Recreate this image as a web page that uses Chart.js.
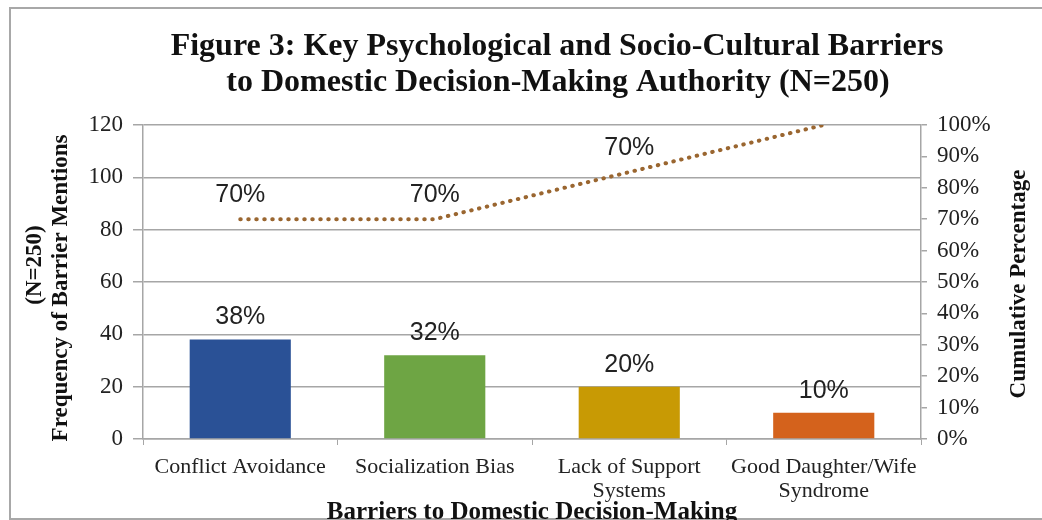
<!DOCTYPE html>
<html>
<head>
<meta charset="utf-8">
<script src="https://cdn.jsdelivr.net/npm/chart.js@4.4.1/dist/chart.umd.min.js"></script>
<style>
  body { margin: 0; background: #fff; }
  #wrap { position: relative; width: 1042px; height: 520px; overflow: hidden; }
  #frame { position: absolute; left: 9px; top: 7px; width: 1100px; height: 509px; border: 2px solid #a8a8a8; }
  #myChart { position: absolute; left: 0; top: 0; }
</style>
</head>
<body>
<div id="wrap">
  <div id="frame"></div>
  <canvas id="myChart" width="1042" height="520"></canvas>
</div>
<script>
// data
var categories = [["Conflict Avoidance"], ["Socialization Bias"], ["Lack of Support", "Systems"], ["Good Daughter/Wife", "Syndrome"]];
var mentions = [38, 32, 20, 10];
var cumulative = [70, 70, 85, 100];
var barLabels = ["38%", "32%", "20%", "10%"];
var lineLabels = ["70%", "70%", "70%", ""];
var barColors = ['#2A5196', '#6EA544', '#C89A04', '#D4621C'];
var titleLines = ['Figure 3: Key Psychological and Socio-Cultural Barriers', 'to Domestic Decision-Making Authority (N=250)'];

var serif = '"Liberation Serif", "DejaVu Serif", serif';
var gridColor = '#a6a6a6';

// labels above bars and line points
var valueLabels = {
  id: 'valueLabels',
  afterDatasetsDraw: function(chart) {
    var ctx = chart.ctx;
    ctx.save();
    ctx.font = '25px "Liberation Sans", Arial, sans-serif';
    ctx.fillStyle = '#222';
    ctx.textAlign = 'center';
    ctx.textBaseline = 'middle';
    chart.getDatasetMeta(0).data.forEach(function(bar, i) {
      ctx.fillText(barLabels[i], bar.x, bar.y - 22);
    });
    chart.getDatasetMeta(1).data.forEach(function(pt, i) {
      if (lineLabels[i]) ctx.fillText(lineLabels[i], pt.x, pt.y - 24);
    });
    ctx.restore();
  }
};

// title and the rotated axis titles (both read bottom-to-top)
var textBits = {
  id: 'textBits',
  afterDraw: function(chart) {
    var ctx = chart.ctx;
    ctx.save();
    ctx.fillStyle = '#111';
    ctx.textAlign = 'center';
    ctx.textBaseline = 'middle';

    ctx.font = 'bold 32px ' + serif;
    ctx.fillText(titleLines[0], 557, 47);
    ctx.fillText(titleLines[1], 558, 83);

    ctx.font = 'bold 23px ' + serif;
    ctx.save();
    ctx.translate(35, 265);
    ctx.rotate(-Math.PI / 2);
    ctx.fillText('(N=250)', 0, 0);
    ctx.restore();

    ctx.save();
    ctx.translate(61, 288);
    ctx.rotate(-Math.PI / 2);
    ctx.fillText('Frequency of Barrier Mentions', 0, 0);
    ctx.restore();

    ctx.save();
    ctx.translate(1019, 284);
    ctx.rotate(-Math.PI / 2);
    ctx.fillText('Cumulative Percentage', 0, 0);
    ctx.restore();

    ctx.restore();
  }
};

var ctx = document.getElementById('myChart').getContext('2d');
var myChart = new Chart(ctx, {
  type: 'bar',
  data: {
    labels: categories,
    datasets: [{
      label: 'Frequency',
      data: mentions,
      backgroundColor: barColors,
      barPercentage: 0.52,
      categoryPercentage: 1,
      yAxisID: 'y',
      order: 2
    }, {
      type: 'line',
      label: 'Cumulative',
      data: cumulative,
      yAxisID: 'y1',
      borderColor: '#9a6630',
      borderWidth: 4,
      borderDash: [0.5, 7.5],
      borderCapStyle: 'round',
      pointRadius: 0,
      tension: 0,
      fill: false,
      order: 1
    }]
  },
  options: {
    responsive: false,
    animation: false,
    layout: { padding: { top: 125 } },
    plugins: {
      legend: { display: false },
      tooltip: { enabled: false },
      title: { display: false }
    },
    scales: {
      x: {
        afterFit: function(scale) { scale.height = 81; },
        grid: { display: true, drawOnChartArea: false, tickLength: 6, color: gridColor, offset: true },
        border: { color: gridColor, width: 1.5 },
        ticks: { color: '#222', font: { family: serif, size: 22, lineHeight: 1.1 }, padding: 10, maxRotation: 0 },
        title: {
          display: true,
          text: 'Barriers to Domestic Decision-Making',
          color: '#111',
          font: { family: serif, size: 25, weight: 'bold' },
          padding: { top: 0, bottom: -8 }
        }
      },
      y: {
        position: 'left',
        min: 0,
        max: 120,
        afterFit: function(scale) { scale.width = 143; },
        ticks: { stepSize: 20, color: '#222', font: { family: serif, size: 23 }, padding: 10 },
        grid: { color: gridColor, lineWidth: 1.5, tickLength: 10 },
        border: { color: gridColor, width: 1.5 }
      },
      y1: {
        position: 'right',
        min: 0,
        max: 100,
        afterFit: function(scale) { scale.width = 121; },
        ticks: {
          stepSize: 10,
          color: '#222',
          font: { family: serif, size: 23 },
          padding: 10,
          callback: function(v) { return v + '%'; }
        },
        grid: { drawOnChartArea: false, color: gridColor, lineWidth: 1.5, tickLength: 6 },
        border: { color: gridColor, width: 1.5 }
      }
    }
  },
  plugins: [valueLabels, textBits]
});
</script>
</body>
</html>
